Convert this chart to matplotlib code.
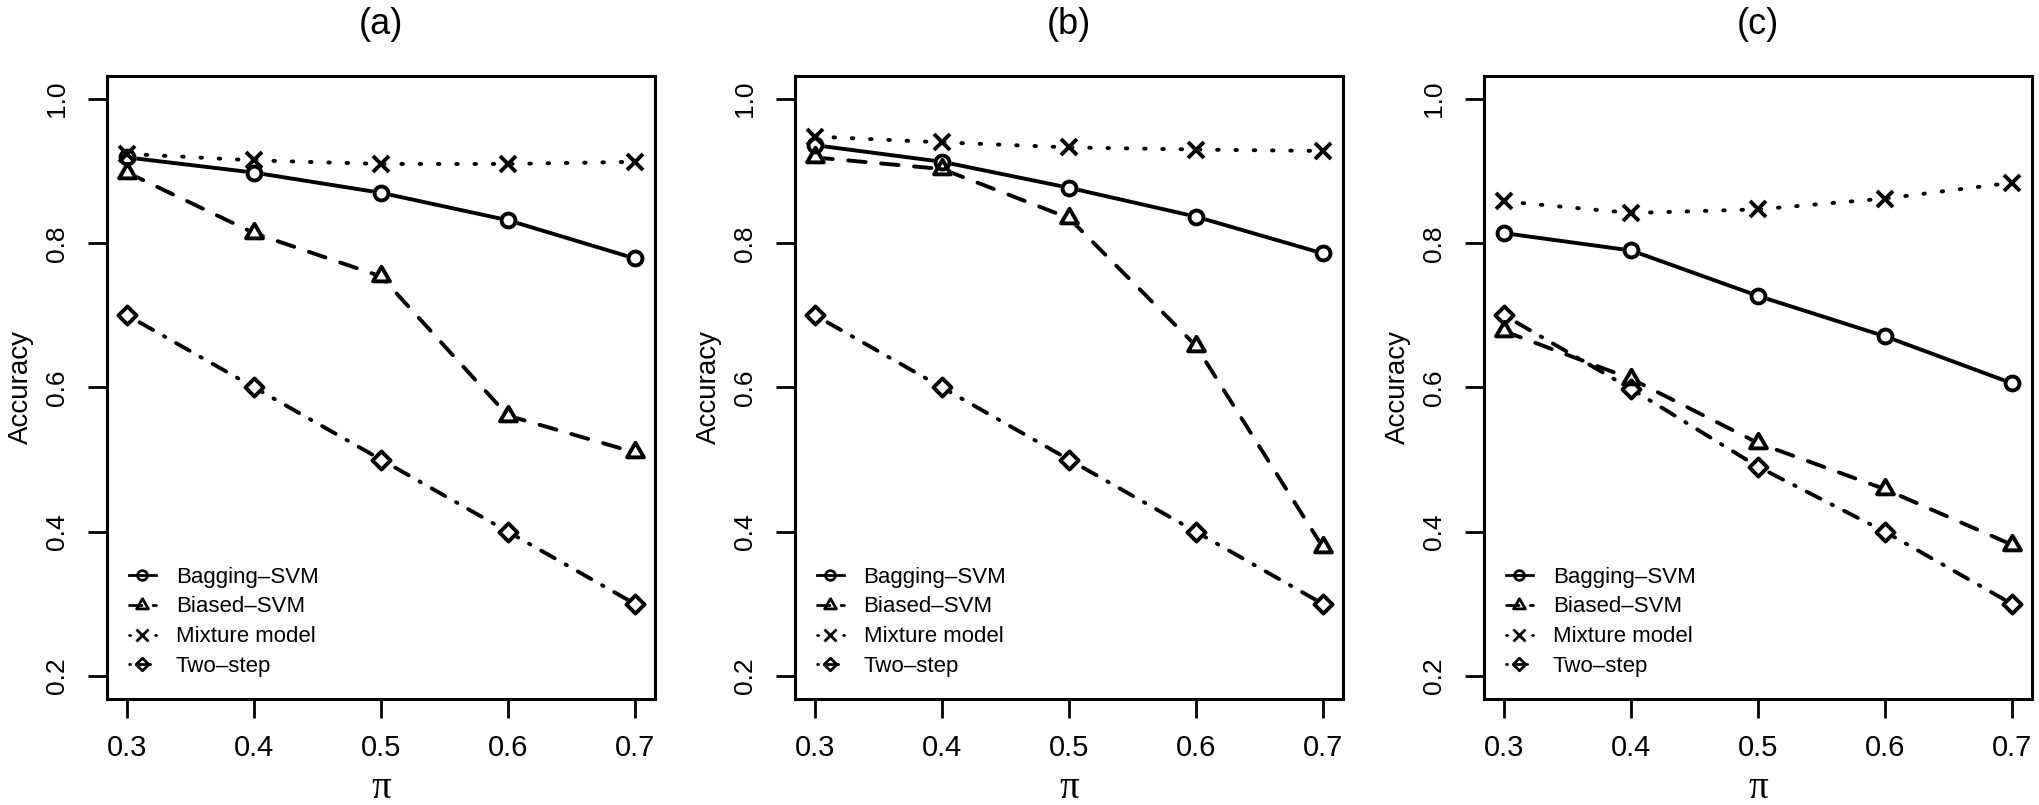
import numpy as np
import matplotlib
matplotlib.use("Agg")
import matplotlib.pyplot as plt
from matplotlib.path import Path
from matplotlib.lines import Line2D

plt.rcParams['font.family'] = ['Liberation Sans', 'DejaVu Sans']

pi_vals = [0.3, 0.4, 0.5, 0.6, 0.7]

a_bagging = [0.919, 0.898, 0.870, 0.832, 0.779]
a_biased = [0.898, 0.814, 0.754, 0.561, 0.510]
a_mixture = [0.924, 0.915, 0.910, 0.910, 0.913]
a_twostep = [0.700, 0.600, 0.500, 0.400, 0.300]

b_bagging = [0.936, 0.913, 0.877, 0.837, 0.786]
b_biased = [0.919, 0.903, 0.835, 0.658, 0.379]
b_mixture = [0.948, 0.940, 0.933, 0.930, 0.928]
b_twostep = [0.700, 0.600, 0.500, 0.400, 0.300]

c_bagging = [0.814, 0.790, 0.727, 0.671, 0.606]
c_biased = [0.678, 0.612, 0.523, 0.459, 0.382]
c_mixture = [0.858, 0.842, 0.847, 0.862, 0.884]
c_twostep = [0.700, 0.598, 0.490, 0.400, 0.300]

panel_titles = ['(a)', '(b)', '(c)']
method_names = ['Bagging\u2013SVM', 'Biased\u2013SVM', 'Mixture model', 'Two\u2013step']
yticks = [0.2, 0.4, 0.6, 0.8, 1.0]

panels = [
    [a_bagging, a_biased, a_mixture, a_twostep],
    [b_bagging, b_biased, b_mixture, b_twostep],
    [c_bagging, c_biased, c_mixture, c_twostep],
]

# R-like open symbols
tri = Path([(0, 1), (-0.866, -0.5), (0.866, -0.5), (0, 1)],
           [Path.MOVETO, Path.LINETO, Path.LINETO, Path.CLOSEPOLY])
dia = Path([(0, 1), (1, 0), (0, -1), (-1, 0), (0, 1)],
           [Path.MOVETO, Path.LINETO, Path.LINETO, Path.LINETO, Path.CLOSEPOLY])

lw = 2.8
styles = [
    dict(ls='-', marker='o', ms=10),
    dict(ls=(0, (4.5, 4)), marker=tri, ms=14),
    dict(ls=(0, (0.4, 4.3)), marker='x', ms=11.5),
    dict(ls=(0, (0.4, 3.2, 4, 3.2)), marker=dia, ms=13),
]

fig = plt.figure(figsize=(20.4, 8.05), dpi=100)
lefts = [0.0525, 0.3897, 0.7275]

for k, series in enumerate(panels):
    ax = fig.add_axes([lefts[k], 0.1317, 0.2686, 0.7739])
    for vals, st in zip(series, styles):
        ax.plot(pi_vals, vals, color='black', lw=lw, ls=st['ls'],
                dash_capstyle='round', solid_capstyle='round', zorder=1)
        ax.plot(pi_vals, vals, ls='none', marker=st['marker'], ms=st['ms'],
                mfc='white', mec='white', mew=lw, zorder=2)
    for vals, st in zip(series, styles):
        ax.plot(pi_vals, vals, ls='none', marker=st['marker'], ms=st['ms'],
                mfc='none', mec='black', mew=lw, zorder=3)

    ax.set_xlim(0.284, 0.716)
    ax.set_ylim(0.168, 1.032)
    ax.set_xticks(pi_vals)
    ax.set_xticklabels(['%.1f' % v for v in pi_vals], fontsize=21)
    ax.set_yticks(yticks)
    ax.set_yticklabels(['%.1f' % v for v in yticks], fontsize=19,
                       rotation=90, va='center')
    ax.tick_params(axis='both', length=13.5, width=2.0, direction='out')
    ax.tick_params(axis='x', pad=12)
    ax.tick_params(axis='y', pad=14)
    for sp in ax.spines.values():
        sp.set_linewidth(2.2)

    handles = [Line2D([], [], color='black', lw=2.0, ls=st['ls'],
                      dash_capstyle='round', marker=st['marker'],
                      ms=st['ms'] * 0.7, mfc='none', mew=2.0) for st in styles]
    ax.legend(handles, method_names, loc='lower left',
              bbox_to_anchor=(0.04, 0.035), frameon=False, fontsize=16,
              handlelength=1.2, handletextpad=0.9, labelspacing=0.4,
              borderpad=0, borderaxespad=0)

    cx = lefts[k] + 0.2686 / 2
    fig.text(cx, 1 - 24 / 805, panel_titles[k], fontsize=26,
             ha='center', va='center')
    fig.text(cx, 1 - 788 / 805, '\u03c0', fontsize=28,
             family=['Liberation Serif', 'DejaVu Serif'],
             ha='center', va='center')
    fig.text(lefts[k] - 86 / 2040, 0.1317 + 0.7739 / 2, 'Accuracy',
             fontsize=20, rotation=90, ha='center', va='center')

fig.savefig('out.png', dpi=100)
